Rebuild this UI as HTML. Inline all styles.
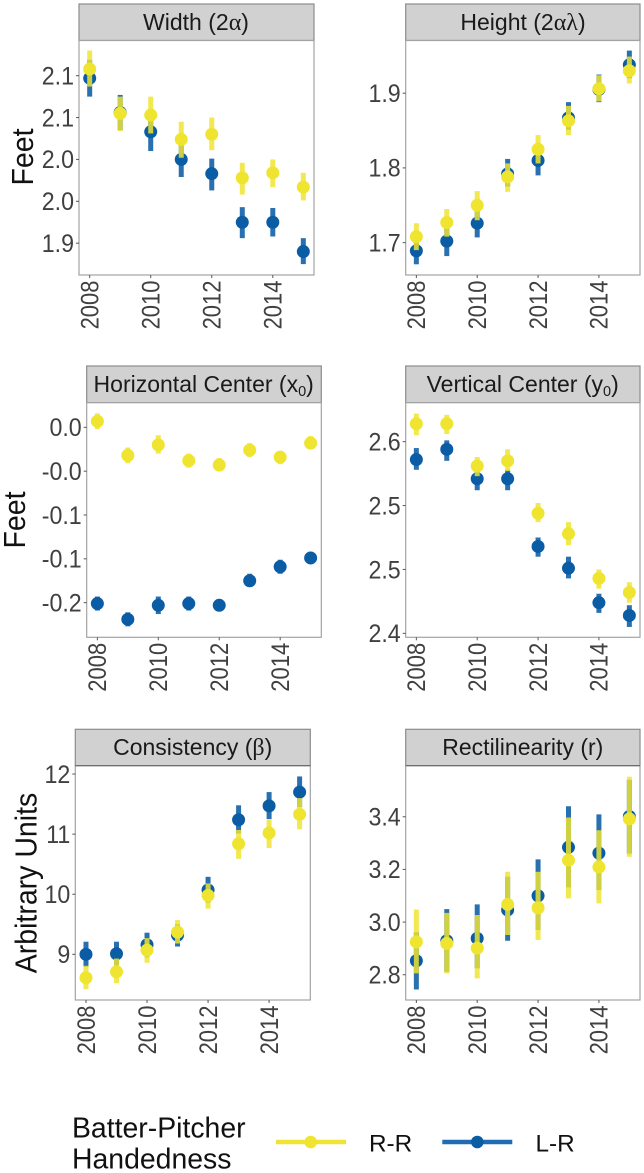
<!DOCTYPE html>
<html>
<head>
<meta charset="utf-8">
<title>Batter-Pitcher Handedness Strike Zone Trends</title>
<style>
html,body{margin:0;padding:0;background:#fff;}
svg{display:block;font-family:"Liberation Sans",sans-serif;}
.strip{fill:#d1d1d1;stroke:#8c8c8c;stroke-width:1.2;}
.frame{fill:#fff;stroke:#a3a3a3;stroke-width:1.2;}
.title{font-size:23px;fill:#1a1a1a;text-anchor:middle;}
.greek{font-family:"Liberation Serif",serif;font-size:24px;}
.axis-title{font-size:28.5px;fill:#111;text-anchor:middle;}
.legend-text{font-size:28.4px;fill:#111;}
.legend-key{font-size:24.3px;fill:#111;}
</style>
</head>
<body>
<svg id="chart" xmlns="http://www.w3.org/2000/svg" width="644" height="1173" viewBox="0 0 644 1173">
  <rect x="0" y="0" width="644" height="1173" fill="#fff"/>

  <g id="panel-width">
    <rect class="strip" x="79" y="4" width="235" height="36.5"/>
    <rect class="frame" x="79" y="40.5" width="235" height="234.5"/>
    <text class="title" x="196" y="30">Width (2<tspan class="greek">α</tspan>)</text>
  </g>
  <g id="panel-height">
    <rect class="strip" x="405.7" y="4" width="234.3" height="36.5"/>
    <rect class="frame" x="405.7" y="40.5" width="234.3" height="234.5"/>
    <text class="title" x="523" y="30">Height (2<tspan class="greek">αλ</tspan>)</text>
  </g>
  <g id="panel-horizontal">
    <rect class="strip" x="86.7" y="366" width="234.6" height="36.7"/>
    <rect class="frame" x="86.7" y="402.7" width="234.6" height="234.6"/>
    <text class="title" x="203.7" y="392">Horizontal Center (x<tspan font-size="14.5" dy="4">0</tspan><tspan dy="-4">)</tspan></text>
  </g>
  <g id="panel-vertical">
    <rect class="strip" x="405.7" y="366" width="234.3" height="36.7"/>
    <rect class="frame" x="405.7" y="402.7" width="234.3" height="234.6"/>
    <text class="title" x="522.7" y="392">Vertical Center (y<tspan font-size="14.5" dy="4">0</tspan><tspan dy="-4">)</tspan></text>
  </g>
  <g id="panel-consistency">
    <rect class="strip" x="75.3" y="729.3" width="235" height="36.4"/>
    <rect class="frame" x="75.3" y="765.7" width="235" height="234.3"/>
    <line x1="75.3" y1="765.7" x2="310.3" y2="765.7" stroke="#666" stroke-width="1.2"/>
    <text class="title" x="192.7" y="755">Consistency (<tspan class="greek">β</tspan>)</text>
  </g>
  <g id="panel-rectilinearity">
    <rect class="strip" x="405.7" y="729.3" width="234.3" height="36.4"/>
    <rect class="frame" x="405.7" y="765.7" width="234.3" height="234.3"/>
    <line x1="405.7" y1="765.7" x2="640" y2="765.7" stroke="#666" stroke-width="1.2"/>
    <text class="title" x="522.8" y="755">Rectilinearity (r)</text>
  </g>

  <text class="axis-title" transform="translate(33,157) rotate(-90) scale(1,1.06)">Feet</text>
  <text class="axis-title" transform="translate(25,520) rotate(-90) scale(1,1.06)">Feet</text>
  <text class="axis-title" transform="translate(36.5,883) rotate(-90) scale(1,1.06)">Arbitrary Units</text>

  <g>
    <text class="legend-text" x="72" y="1137.3">Batter-Pitcher</text>
    <text class="legend-text" x="72" y="1168.3">Handedness</text>
    <line x1="276" y1="1142" x2="346" y2="1142" stroke="#efe436" stroke-width="4.6"/>
    <circle cx="310.7" cy="1142" r="6.3" fill="#efe42f"/>
    <text class="legend-key" x="369" y="1151.7">R-R</text>
    <line x1="442.3" y1="1142" x2="512.3" y2="1142" stroke="#1f6cb0" stroke-width="4.6"/>
    <circle cx="477.3" cy="1142" r="6.3" fill="#0a5ca5"/>
    <text class="legend-key" x="535.5" y="1151.7">L-R</text>
  </g>
</svg>

<script>
const years = [2008, 2009, 2010, 2011, 2012, 2013, 2014, 2015];
const xTickYears = [2008, 2010, 2012, 2014];

const widthTicks = [2.10, 2.05, 2.00, 1.95, 1.90];
const widthTickLabels = ["2.1", "2.1", "2.0", "2.0", "1.9"];
const widthRR = [2.108, 2.055, 2.053, 2.024, 2.030, 1.978, 1.984, 1.967];
const widthRRLo = [2.087, 2.034, 2.031, 2.002, 2.011, 1.958, 1.967, 1.951];
const widthRRHi = [2.130, 2.075, 2.075, 2.045, 2.050, 1.996, 2.000, 1.984];
const widthLR = [2.097, 2.056, 2.033, 2.000, 1.983, 1.925, 1.925, 1.890];
const widthLRLo = [2.075, 2.035, 2.010, 1.979, 1.963, 1.906, 1.908, 1.875];
const widthLRHi = [2.119, 2.077, 2.051, 2.020, 2.001, 1.943, 1.942, 1.906];

const heightTicks = [1.9, 1.8, 1.7];
const heightTickLabels = ["1.9", "1.8", "1.7"];
const heightRR = [1.708, 1.727, 1.750, 1.788, 1.825, 1.863, 1.906, 1.930];
const heightRRLo = [1.690, 1.708, 1.730, 1.768, 1.806, 1.844, 1.889, 1.913];
const heightRRHi = [1.726, 1.745, 1.769, 1.806, 1.844, 1.883, 1.924, 1.949];
const heightLR = [1.689, 1.702, 1.726, 1.792, 1.810, 1.867, 1.905, 1.938];
const heightLRLo = [1.671, 1.682, 1.707, 1.775, 1.790, 1.851, 1.888, 1.920];
const heightLRHi = [1.706, 1.721, 1.744, 1.812, 1.826, 1.888, 1.925, 1.957];

const horizontalTicks = [0, -0.05, -0.10, -0.15, -0.20];
const horizontalTickLabels = ["0.0", "-0.0", "-0.1", "-0.1", "-0.2"];
const horizontalRR = [0.007, -0.032, -0.020, -0.038, -0.043, -0.026, -0.034, -0.018];
const horizontalRRLo = [-0.002, -0.041, -0.030, -0.046, -0.050, -0.034, -0.042, -0.025];
const horizontalRRHi = [0.016, -0.023, -0.009, -0.030, -0.035, -0.018, -0.027, -0.010];
const horizontalLR = [-0.201, -0.219, -0.203, -0.201, -0.203, -0.175, -0.159, -0.149];
const horizontalLRLo = [-0.209, -0.227, -0.213, -0.209, -0.210, -0.182, -0.167, -0.156];
const horizontalLRHi = [-0.193, -0.211, -0.193, -0.193, -0.196, -0.167, -0.151, -0.142];

const verticalTicks = [2.60, 2.55, 2.50, 2.45];
const verticalTickLabels = ["2.6", "2.5", "2.5", "2.4"];
const verticalRR = [2.614, 2.614, 2.581, 2.585, 2.544, 2.528, 2.493, 2.482];
const verticalRRLo = [2.605, 2.606, 2.573, 2.577, 2.537, 2.519, 2.485, 2.474];
const verticalRRHi = [2.622, 2.621, 2.588, 2.594, 2.552, 2.537, 2.500, 2.490];
const verticalLR = [2.586, 2.594, 2.571, 2.571, 2.518, 2.501, 2.474, 2.464];
const verticalLRLo = [2.578, 2.585, 2.562, 2.562, 2.510, 2.493, 2.466, 2.455];
const verticalLRHi = [2.595, 2.601, 2.578, 2.578, 2.525, 2.510, 2.481, 2.472];

const consistencyTicks = [12, 11, 10, 9];
const consistencyTickLabels = ["12", "11", "10", "9"];
const consistencyRR = [8.61, 8.71, 9.07, 9.37, 9.98, 10.84, 11.02, 11.33];
const consistencyRRLo = [8.42, 8.52, 8.86, 9.18, 9.76, 10.59, 10.77, 11.08];
const consistencyRRHi = [8.81, 8.93, 9.27, 9.57, 10.18, 11.07, 11.24, 11.60];
const consistencyLR = [9.00, 9.01, 9.16, 9.32, 10.07, 11.24, 11.47, 11.70];
const consistencyLRLo = [8.79, 8.81, 8.95, 9.13, 9.86, 11.01, 11.25, 11.45];
const consistencyLRHi = [9.21, 9.21, 9.36, 9.50, 10.29, 11.48, 11.70, 11.96];

const rectilinearityTicks = [3.4, 3.2, 3.0, 2.8];
const rectilinearityTickLabels = ["3.4", "3.2", "3.0", "2.8"];
const rectilinearityRR = [2.925, 2.919, 2.901, 3.067, 3.054, 3.235, 3.209, 3.392];
const rectilinearityRRLo = [2.805, 2.805, 2.786, 2.951, 2.932, 3.090, 3.071, 3.248];
const rectilinearityRRHi = [3.048, 3.035, 3.027, 3.191, 3.191, 3.397, 3.349, 3.552];
const rectilinearityLR = [2.853, 2.929, 2.938, 3.046, 3.100, 3.284, 3.262, 3.401];
const rectilinearityLRLo = [2.744, 2.811, 2.824, 2.929, 2.970, 3.132, 3.122, 3.260];
const rectilinearityLRHi = [2.962, 3.049, 3.067, 3.172, 3.238, 3.440, 3.409, 3.540];

const xDomain = [2007.65, 2015.35];

const panels = [
  { id: "panel-width", key: "width", left: 79, right: 314, top: 40.5, bottom: 275, yMin: 1.862, yMax: 2.142,
    ticks: widthTicks, tickLabels: widthTickLabels, rr: widthRR, rrLo: widthRRLo, rrHi: widthRRHi, lr: widthLR, lrLo: widthLRLo, lrHi: widthLRHi },
  { id: "panel-height", key: "height", left: 405.7, right: 640, top: 40.5, bottom: 275, yMin: 1.6567, yMax: 1.9705,
    ticks: heightTicks, tickLabels: heightTickLabels, rr: heightRR, rrLo: heightRRLo, rrHi: heightRRHi, lr: heightLR, lrLo: heightLRLo, lrHi: heightLRHi },
  { id: "panel-horizontal", key: "horizontal-center", left: 86.7, right: 321.3, top: 402.7, bottom: 637.3, yMin: -0.2395, yMax: 0.0281,
    ticks: horizontalTicks, tickLabels: horizontalTickLabels, rr: horizontalRR, rrLo: horizontalRRLo, rrHi: horizontalRRHi, lr: horizontalLR, lrLo: horizontalLRLo, lrHi: horizontalLRHi },
  { id: "panel-vertical", key: "vertical-center", left: 405.7, right: 640, top: 402.7, bottom: 637.3, yMin: 2.4469, yMax: 2.6305,
    ticks: verticalTicks, tickLabels: verticalTickLabels, rr: verticalRR, rrLo: verticalRRLo, rrHi: verticalRRHi, lr: verticalLR, lrLo: verticalLRLo, lrHi: verticalLRHi },
  { id: "panel-consistency", key: "consistency", left: 75.3, right: 310.3, top: 765.7, bottom: 1000, yMin: 8.24, yMax: 12.139,
    ticks: consistencyTicks, tickLabels: consistencyTickLabels, rr: consistencyRR, rrLo: consistencyRRLo, rrHi: consistencyRRHi, lr: consistencyLR, lrLo: consistencyLRLo, lrHi: consistencyLRHi },
  { id: "panel-rectilinearity", key: "rectilinearity", left: 405.7, right: 640, top: 765.7, bottom: 1000, yMin: 2.704, yMax: 3.594,
    ticks: rectilinearityTicks, tickLabels: rectilinearityTickLabels, rr: rectilinearityRR, rrLo: rectilinearityRRLo, rrHi: rectilinearityRRHi, lr: rectilinearityLR, lrLo: rectilinearityLRLo, lrHi: rectilinearityLRHi }
];

const SVG_NS = "http://www.w3.org/2000/svg";

function makeEl(tag, attrs) {
  const el = document.createElementNS(SVG_NS, tag);
  Object.keys(attrs).forEach(function (k) { el.setAttribute(k, attrs[k]); });
  return el;
}

function xScale(p, year) {
  return p.left + (year - xDomain[0]) / (xDomain[1] - xDomain[0]) * (p.right - p.left);
}

function yScale(p, value) {
  return p.bottom - (value - p.yMin) / (p.yMax - p.yMin) * (p.bottom - p.top);
}

function drawAxes(p, g) {
  p.ticks.forEach(function (tick, i) {
    const y = yScale(p, tick);
    const line = makeEl("line", { x1: p.left - 3, x2: p.left, y1: y, y2: y, stroke: "#555", "stroke-width": 1 });
    
    
    g.appendChild(line);
    const label = makeEl("text", { transform: "translate(" + (p.left - 5) + "," + (y + 8.8) + ") scale(1,1.06)", "text-anchor": "end", fill: "#404040", "font-size": "23.2px" });
    
    
    label.textContent = p.tickLabels[i];
    g.appendChild(label);
  });
  xTickYears.forEach(function (year) {
    const x = xScale(p, year);
    const line = makeEl("line", { x1: x, x2: x, y1: p.bottom, y2: p.bottom + 3, stroke: "#555", "stroke-width": 1 });
    
    
    g.appendChild(line);
    const label = makeEl("text", { transform: "translate(" + (x + 8.8) + "," + (p.bottom + 5.5) + ") rotate(-90) scale(1,1.12)", "text-anchor": "end", fill: "#404040", "font-size": "22px" });
    
    
    label.textContent = String(year);
    g.appendChild(label);
  });
}

function drawSeries(p, g, mid, lo, hi, barColor, barOpacity, dotColor, seriesName) {
  years.forEach(function (year, i) {
    const x = xScale(p, year);
    const bar = makeEl("line", { x1: x, x2: x, y1: yScale(p, lo[i]), y2: yScale(p, hi[i]), stroke: barColor, "stroke-width": 5, "stroke-opacity": barOpacity });
    
    bar.setAttribute('data-series', seriesName);
    
    g.appendChild(bar);
  });
  years.forEach(function (year, i) {
    const dot = makeEl("circle", { cx: xScale(p, year), cy: yScale(p, mid[i]), r: 6.5, fill: dotColor });
    
    dot.setAttribute('data-series', seriesName);
    
    g.appendChild(dot);
  });
}

panels.forEach(function (p) {
  const g = document.getElementById(p.id);
  drawAxes(p, g);
  drawSeries(p, g, p.lr, p.lrLo, p.lrHi, "#0a5ca5", 0.88, "#0a5ca5", "L-R");
  drawSeries(p, g, p.rr, p.rrLo, p.rrHi, "#efe42f", 0.84, "#efe42f", "R-R");
});
</script>
</body>
</html>
